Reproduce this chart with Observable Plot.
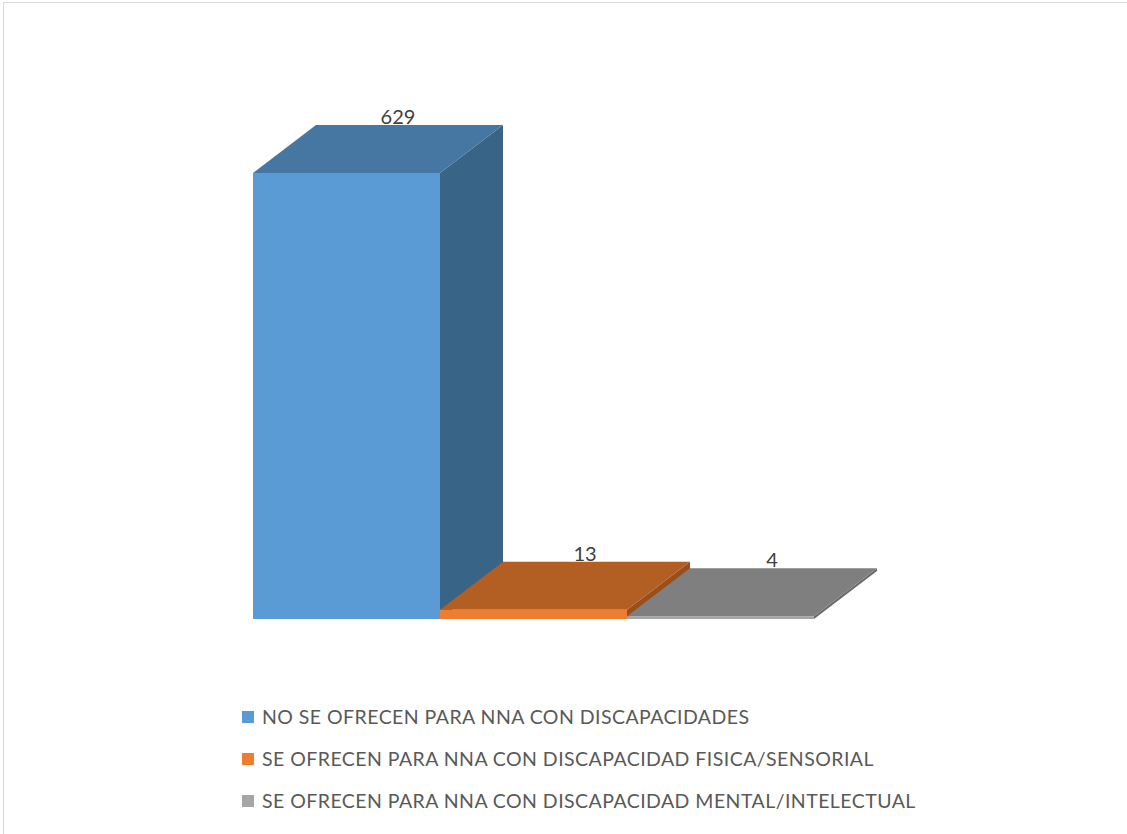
<!DOCTYPE html>
<html><head><meta charset="utf-8">
<script src="https://cdn.jsdelivr.net/npm/d3@7"></script>
<script src="https://cdn.jsdelivr.net/npm/@observablehq/plot@0.6"></script>
<style>
body{margin:0;background:#fff;width:1127px;height:834px;overflow:hidden;position:relative;font-family:Lato,"Open Sans",sans-serif}
#frame{position:absolute;left:3px;top:2px;width:1200px;height:900px;border:1.5px solid #d9d9d9;box-sizing:border-box}
#chart{position:absolute;left:0;top:0}
.item{position:absolute;left:242px;white-space:nowrap;font-family:Lato,sans-serif;font-size:19.5px;letter-spacing:0.45px;line-height:22px;color:#595959;display:flex;align-items:center}
.sw{width:12px;height:12px;margin-right:8px;flex:none}
</style></head><body>
<div id="frame"></div>
<div id="chart"></div>
<div id="legend"></div>
<script>
const categories = [
  "NO SE OFRECEN PARA NNA CON DISCAPACIDADES",
  "SE OFRECEN PARA NNA CON DISCAPACIDAD FISICA/SENSORIAL",
  "SE OFRECEN PARA NNA CON DISCAPACIDAD MENTAL/INTELECTUAL"
];
const values = [629, 13, 4];
const frontColors = ["#5b9bd5", "#ed7d31", "#a5a5a5"];
const topColors = ["#4677a3", "#b35e22", "#7f7f7f"];
const sideColors = ["#386488", "#9a4f1b", "#6a6a6a"];

const data = categories.map((c, i) => ({cat: c, value: values[i], front: frontColors[i], top: topColors[i], side: sideColors[i]}));

const DX = 63, DY = 48;

function faces(index, scales) {
  const g = d3.create("svg:g");
  const step = scales.x(categories[1]) - scales.x(categories[0]);
  const y0 = scales.y(0);
  data.forEach(d => {
    const x0 = scales.x(d.cat), x1 = x0 + step, yv = scales.y(d.value);
    g.append("path")
      .attr("d", `M${x1},${yv}L${x1+DX},${yv-DY}L${x1+DX},${y0-DY}L${x1},${y0}Z`)
      .attr("fill", d.side);
    g.append("path")
      .attr("d", `M${x0},${yv}L${x1},${yv}L${x1+DX},${yv-DY}L${x0+DX},${yv-DY}Z`)
      .attr("fill", d.top);
  });
  return g.node();
}

const chart = Plot.plot({
  width: 1127,
  height: 660,
  x: {type: "band", domain: categories, range: [252, 815], padding: 0, axis: null},
  y: {domain: [0, 629], range: [619, 173], axis: null},
  marks: [
    faces,
    Plot.barY(data, {x: "cat", y: "value", fill: d => d.front, inset: 0}),
    Plot.text(data, {x: "cat", y: "value", text: d => String(d.value), dx: 51, dy: -56,
      fill: "#404040", fontSize: 20, fontFamily: "Lato, 'Open Sans', sans-serif"})
  ],
  style: {background: "transparent", overflow: "visible"}
});
document.getElementById("chart").appendChild(chart);

const legend = document.getElementById("legend");
const tops = [706, 748, 790];
data.forEach((d, i) => {
  const it = document.createElement("div");
  it.className = "item";
  it.style.top = tops[i] + "px";
  const sw = document.createElement("span");
  sw.className = "sw";
  sw.style.background = d.front;
  it.appendChild(sw);
  it.appendChild(document.createTextNode(d.cat));
  legend.appendChild(it);
});
</script>
</body></html>
